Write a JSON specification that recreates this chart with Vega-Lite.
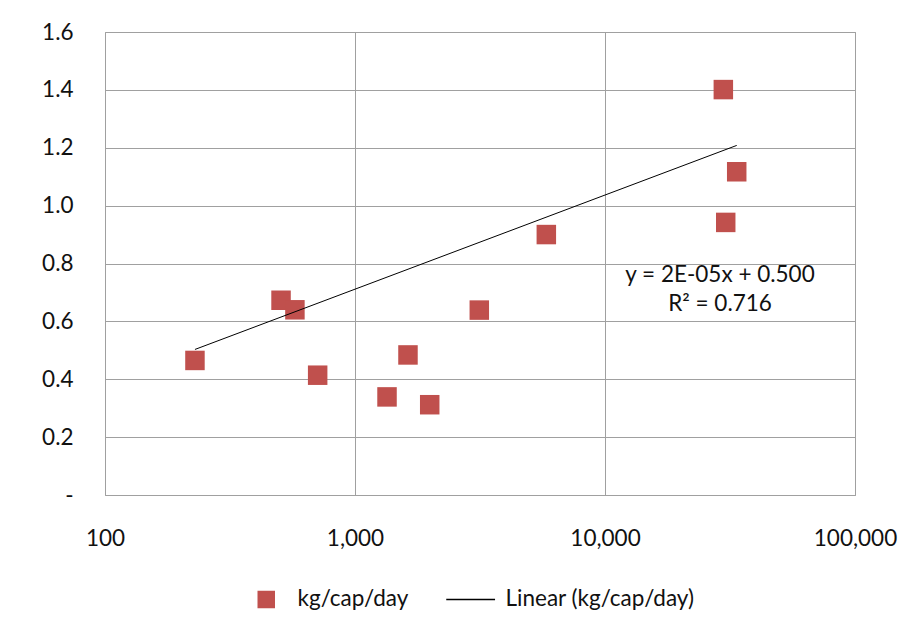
{
  "$schema": "https://vega.github.io/schema/vega-lite/v6.json",
  "autosize": "none",
  "width": 750,
  "height": 463,
  "padding": {"left": 105, "top": 32, "right": 60, "bottom": 139},
  "background": "white",
  "datasets": {
    "pts": [
      {"series": "kg/cap/day", "x": 229, "y": 0.465},
      {"series": "kg/cap/day", "x": 506, "y": 0.673},
      {"series": "kg/cap/day", "x": 575, "y": 0.640},
      {"series": "kg/cap/day", "x": 709, "y": 0.414},
      {"series": "kg/cap/day", "x": 1343, "y": 0.339},
      {"series": "kg/cap/day", "x": 1629, "y": 0.484},
      {"series": "kg/cap/day", "x": 1990, "y": 0.312},
      {"series": "kg/cap/day", "x": 3142, "y": 0.639},
      {"series": "kg/cap/day", "x": 5825, "y": 0.900},
      {"series": "kg/cap/day", "x": 29740, "y": 1.401},
      {"series": "kg/cap/day", "x": 33640, "y": 1.117},
      {"series": "kg/cap/day", "x": 30400, "y": 0.942}
    ],
    "trend": [
      {"series": "Linear (kg/cap/day)", "x": 229, "y": 0.503},
      {"series": "Linear (kg/cap/day)", "x": 33640, "y": 1.208}
    ],
    "notes": [
      {"label": "y = 2E-05x + 0.500", "x": 28840, "y": 0.760},
      {"label": "R² = 0.716", "x": 28840, "y": 0.660}
    ]
  },
  "config": {
    "font": "Lato",
    "view": {"stroke": "#A0A0A0", "strokeWidth": 1},
    "axis": {
      "labelFont": "Lato",
      "labelFontSize": 22.5,
      "labelColor": "#111111",
      "gridColor": "#A0A0A0",
      "gridOpacity": 1,
      "gridWidth": 1,
      "ticks": false,
      "domain": false,
      "title": null
    },
    "legend": {
      "labelFont": "Lato",
      "labelFontSize": 22.5,
      "labelColor": "#111111",
      "labelLimit": 400
    }
  },
  "layer": [
    {
      "data": {"name": "pts"},
      "mark": {"type": "point", "filled": true, "size": 380, "opacity": 1},
      "encoding": {
        "x": {
          "field": "x", "type": "quantitative",
          "scale": {"type": "log", "domain": [100, 100000], "nice": false},
          "axis": {"values": [100, 1000, 10000, 100000], "format": ",d", "labelPadding": 32, "labelFlush": false}
        },
        "y": {
          "field": "y", "type": "quantitative",
          "scale": {"domain": [0, 1.6], "nice": false},
          "axis": {"values": [0, 0.2, 0.4, 0.6, 0.8, 1.0, 1.2, 1.4, 1.6], "labelExpr": "datum.value == 0 ? '-' : format(datum.value, '.1f')", "labelPadding": 32}
        },
        "color": {
          "field": "series", "type": "nominal",
          "scale": {"domain": ["kg/cap/day", "Linear (kg/cap/day)"], "range": ["#C0504D", "#000000"]},
          "legend": {
            "title": null,
            "orient": "none",
            "direction": "horizontal",
            "legendX": 150,
            "legendY": 556,
            "symbolSize": 256,
            "labelOffset": 20,
            "columnPadding": 34,
            "encode": {
              "symbols": {
                "update": {
                  "fill": {"signal": "datum.value == 'kg/cap/day' ? '#C0504D' : 'transparent'"},
                  "stroke": {"signal": "datum.value == 'kg/cap/day' ? 'transparent' : '#000000'"},
                  "strokeWidth": {"value": 1},
                  "opacity": {"value": 1}
                }
              }
            }
          }
        },
        "shape": {
          "field": "series", "type": "nominal",
          "scale": {"domain": ["kg/cap/day", "Linear (kg/cap/day)"], "range": ["square", "M-3.5,0H2.6"]},
          "legend": null
        }
      }
    },
    {
      "data": {"name": "trend"},
      "mark": {"type": "line", "color": "#000000", "strokeWidth": 1},
      "encoding": {
        "x": {"field": "x", "type": "quantitative"},
        "y": {"field": "y", "type": "quantitative"},
        "color": {"field": "series", "type": "nominal"}
      }
    },
    {
      "data": {"name": "notes"},
      "mark": {"type": "text", "font": "Lato", "fontSize": 22.5, "color": "#111111", "align": "center", "baseline": "middle"},
      "encoding": {
        "x": {"field": "x", "type": "quantitative"},
        "y": {"field": "y", "type": "quantitative"},
        "text": {"field": "label"}
      }
    }
  ]
}
